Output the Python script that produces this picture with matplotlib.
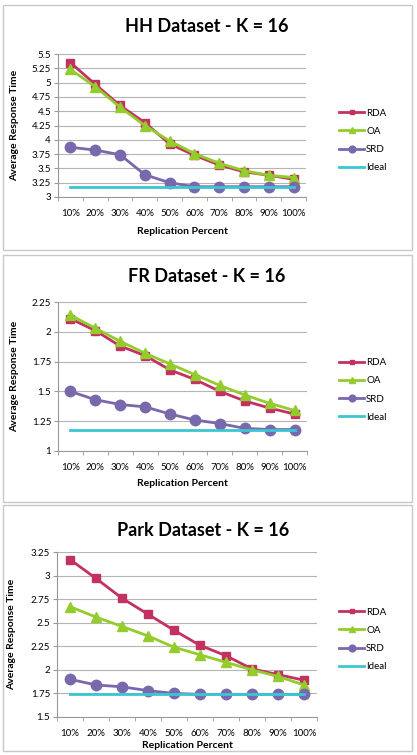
import matplotlib.pyplot as plt
from matplotlib.patches import Rectangle

plt.rcParams['font.family'] = ['Lato', 'DejaVu Sans']

categories = ['10%', '20%', '30%', '40%', '50%', '60%', '70%', '80%', '90%', '100%']

hh_rda = [5.35, 4.97, 4.60, 4.30, 3.93, 3.73, 3.56, 3.44, 3.38, 3.31]
hh_oa = [5.23, 4.93, 4.57, 4.25, 3.98, 3.76, 3.59, 3.46, 3.38, 3.34]
hh_srd = [3.87, 3.82, 3.74, 3.39, 3.25, 3.18, 3.18, 3.18, 3.18, 3.18]
hh_ideal = 3.18

fr_rda = [2.11, 2.01, 1.88, 1.80, 1.68, 1.60, 1.50, 1.42, 1.36, 1.31]
fr_oa = [2.14, 2.03, 1.92, 1.82, 1.73, 1.64, 1.55, 1.47, 1.40, 1.34]
fr_srd = [1.50, 1.43, 1.39, 1.37, 1.31, 1.26, 1.23, 1.19, 1.18, 1.18]
fr_ideal = 1.18

park_rda = [3.17, 2.97, 2.76, 2.59, 2.42, 2.26, 2.15, 2.01, 1.95, 1.89]
park_oa = [2.67, 2.56, 2.46, 2.36, 2.24, 2.16, 2.08, 2.00, 1.93, 1.84]
park_srd = [1.90, 1.84, 1.82, 1.78, 1.75, 1.74, 1.74, 1.74, 1.74, 1.74]
park_ideal = 1.74

hh_ticks = [3, 3.25, 3.5, 3.75, 4, 4.25, 4.5, 4.75, 5, 5.25, 5.5]
fr_ticks = [1, 1.25, 1.5, 1.75, 2, 2.25]
park_ticks = [1.5, 1.75, 2, 2.25, 2.5, 2.75, 3, 3.25]

C_RDA = '#c3325e'
C_OA = '#93cc2c'
C_SRD = '#7a68ad'
C_IDEAL = '#3cc6d2'

W, H = 417, 755
fig = plt.figure(figsize=(W / 100, H / 100), dpi=100)


def px_axes(left, top, right, bottom):
    return fig.add_axes([left / W, (H - bottom) / H, (right - left) / W, (bottom - top) / H])


def box(left, top, right, bottom):
    fig.patches.append(Rectangle((left / W, (H - bottom) / H), (right - left) / W, (bottom - top) / H,
                                 transform=fig.transFigure, fill=False, edgecolor='#c8c8c8', lw=1))


def panel(title, rda, oa, srd, ideal, ticks, rect, title_xy, ylab_x, leg_y, xlab_y, tick_pad):
    ax = px_axes(*rect)
    x = list(range(len(categories)))
    ax.plot(x, rda, color=C_RDA, marker='s', ms=5.5, lw=2, label='RDA')
    ax.plot(x, oa, color=C_OA, marker='^', ms=6.5, lw=2, label='OA')
    ax.plot(x, srd, color=C_SRD, marker='o', ms=7.5, lw=2, label='SRD')
    ax.plot(x, [ideal] * len(x), color=C_IDEAL, lw=2, label='Ideal')
    ax.set_xlim(-0.5, len(x) - 0.5)
    ax.set_ylim(ticks[0], ticks[-1])
    ax.set_yticks(ticks)
    ax.set_yticklabels([('%g' % t) for t in ticks], fontsize=7)
    ax.set_xticks(x)
    ax.set_xticklabels(categories, fontsize=7)
    ax.set_xticks([i + 0.5 for i in range(-1, len(x))], minor=True)
    ax.tick_params(axis='x', which='major', length=0, pad=tick_pad)
    ax.tick_params(axis='x', which='minor', length=3, color='#999999')
    ax.tick_params(axis='y', length=3, color='#999999', pad=2)
    ax.grid(axis='y', color='#b5b5b5', lw=0.8)
    ax.set_axisbelow(True)
    for s in ['top', 'right']:
        ax.spines[s].set_visible(False)
    for s in ['left', 'bottom']:
        ax.spines[s].set_color('#999999')
        ax.spines[s].set_linewidth(0.8)
    fig.text(title_xy[0] / W, (H - title_xy[1]) / H, title, ha='center', va='center',
             fontsize=13, fontweight='bold')
    fig.text((rect[0] + rect[2]) / 2 / W, (H - xlab_y) / H, 'Replication Percent',
             ha='center', va='center', fontsize=7.5, fontweight='bold')
    fig.text(ylab_x / W, (H - (rect[1] + rect[3]) / 2) / H, 'Average Response Time',
             ha='center', va='center', rotation=90, fontsize=7.5, fontweight='bold')
    ax.legend(loc='center left', bbox_to_anchor=(339 / W, (H - leg_y) / H),
              bbox_transform=fig.transFigure, frameon=False, fontsize=7,
              handlelength=2.6, borderpad=0, borderaxespad=0, labelspacing=0.95,
              handletextpad=0.2, markerscale=0.65)
    return ax


box(3, 5, 412, 250)
box(3, 255, 412, 502)
box(3, 505, 412, 751)

panel('HH Dataset - K = 16', hh_rda, hh_oa, hh_srd, hh_ideal, hh_ticks,
      (58, 54, 306, 197), (207, 27), 15, 140.5, 232, 9)
panel('FR Dataset - K = 16', fr_rda, fr_oa, fr_srd, fr_ideal, fr_ticks,
      (58, 302, 307, 451), (207, 276), 15, 390, 484, 9)
panel('Park Dataset - K = 16', park_rda, park_oa, park_srd, park_ideal, park_ticks,
      (57, 552, 317, 717), (203, 531), 12, 639.5, 745, 9)

fig.savefig('out.png', dpi=100)
